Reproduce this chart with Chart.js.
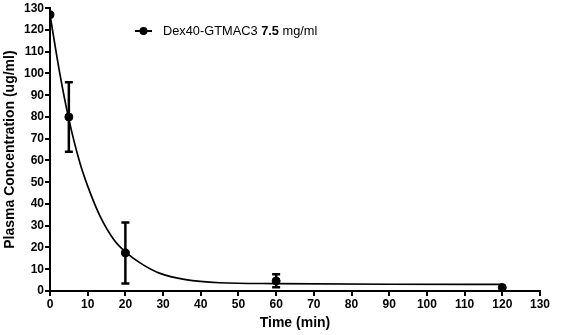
<!DOCTYPE html>
<html>
<head>
<meta charset="utf-8">
<script src="https://cdn.jsdelivr.net/npm/chart.js@4"></script>
<style>
  html, body { margin: 0; padding: 0; background: #fff; }
  #wrap { width: 567px; height: 335px; }
</style>
</head>
<body>
<div id="wrap"><canvas id="myChart" width="567" height="335"></canvas></div>
<script>
// measured points
const times = [0, 5, 20, 60, 120];
const means = [127, 80, 17.5, 4.6, 1.6];
const errHigh = [127, 96, 31.5, 7.7, 1.6];
const errLow = [127, 64, 3.5, 1.7, 1.6];

// fitted curve
const fitX = [0, 2.5, 5, 8, 10.7, 13.4, 17, 20, 24, 29, 36, 45, 60, 90, 120];
const fitY = [127, 101, 79, 58.5, 45, 34, 23.5, 18, 12.8, 8.2, 5.2, 3.8, 3.4, 3.1, 3.0];

const seriesName = 'Dex40-GTMAC3';
const doseText = '7.5';
const unitText = 'mg/ml';

const FONT = '"Liberation Sans", Arial, sans-serif';

// error bars drawn on top of the points
const errorBars = {
  id: 'errorBars',
  afterDatasetsDraw(chart) {
    const ctx = chart.ctx;
    const xs = chart.scales.x, ys = chart.scales.y;
    ctx.save();
    ctx.strokeStyle = '#000';
    ctx.lineWidth = 2.5;
    times.forEach((t, i) => {
      if (errHigh[i] === errLow[i]) return;
      const px = xs.getPixelForValue(t);
      const top = ys.getPixelForValue(errHigh[i]);
      const bot = ys.getPixelForValue(errLow[i]);
      ctx.beginPath();
      ctx.moveTo(px, top); ctx.lineTo(px, bot);
      ctx.moveTo(px - 4, top); ctx.lineTo(px + 4, top);
      ctx.moveTo(px - 4, bot); ctx.lineTo(px + 4, bot);
      ctx.stroke();
    });
    ctx.restore();
  }
};

// legend with bold dose
const customLegend = {
  id: 'customLegend',
  afterDraw(chart) {
    const ctx = chart.ctx;
    const y = 31;
    ctx.save();
    ctx.strokeStyle = '#000';
    ctx.lineWidth = 2;
    ctx.beginPath(); ctx.moveTo(135, y); ctx.lineTo(152, y); ctx.stroke();
    ctx.fillStyle = '#000';
    ctx.beginPath(); ctx.arc(143.5, y, 4, 0, Math.PI * 2); ctx.fill();
    ctx.textBaseline = 'middle';
    let x = 163;
    ctx.font = '12.8px ' + FONT;
    ctx.fillText(seriesName + ' ', x, y);
    x += ctx.measureText(seriesName + ' ').width;
    ctx.font = 'bold 12.8px ' + FONT;
    ctx.fillText(doseText, x, y);
    x += ctx.measureText(doseText).width;
    ctx.font = '12.8px ' + FONT;
    ctx.fillText(' ' + unitText, x, y);
    ctx.restore();
  }
};

const data = {
  datasets: [
    {
      label: 'fit',
      type: 'line',
      data: fitX.map((x, i) => ({ x: x, y: fitY[i] })),
      borderColor: '#000',
      borderWidth: 1.7,
      pointRadius: 0,
      cubicInterpolationMode: 'monotone',
      fill: false
    },
    {
      label: seriesName,
      type: 'scatter',
      data: times.map((t, i) => ({ x: t, y: means[i] })),
      backgroundColor: '#000',
      borderColor: '#000',
      pointRadius: 4,
      showLine: false
    }
  ]
};

const tickFont = { family: FONT, size: 12, weight: 'bold' };
const titleFont = { family: FONT, size: 14, weight: 'bold' };

const config = {
  type: 'scatter',
  data: data,
  options: {
    responsive: false,
    animation: false,
    layout: { padding: { top: 7, right: 27, left: 0, bottom: 0 } },
    plugins: { legend: { display: false }, tooltip: { enabled: false } },
    scales: {
      x: {
        type: 'linear',
        min: 0, max: 130,
        afterFit(scale) { scale.height = 44; },
        border: { color: '#000', width: 2 },
        grid: { drawOnChartArea: false, color: '#000', lineWidth: 2, tickLength: 5 },
        ticks: { stepSize: 10, color: '#000', font: tickFont, padding: 1, maxRotation: 0 },
        title: { display: true, text: 'Time (min)', color: '#000', font: titleFont, padding: { top: 1, bottom: 3.5 } }
      },
      y: {
        type: 'linear',
        min: 0, max: 130,
        afterFit(scale) { scale.width = 50; },
        border: { color: '#000', width: 2 },
        grid: { drawOnChartArea: false, color: '#000', lineWidth: 2, tickLength: 5 },
        ticks: { stepSize: 10, color: '#000', font: tickFont, padding: 1 },
        title: { display: true, text: 'Plasma Concentration (ug/ml)', color: '#000', font: titleFont, padding: { top: 1.5, bottom: 2 } }
      }
    }
  },
  plugins: [errorBars, customLegend]
};

const myChart = new Chart(document.getElementById('myChart'), config);
</script>
</body>
</html>
